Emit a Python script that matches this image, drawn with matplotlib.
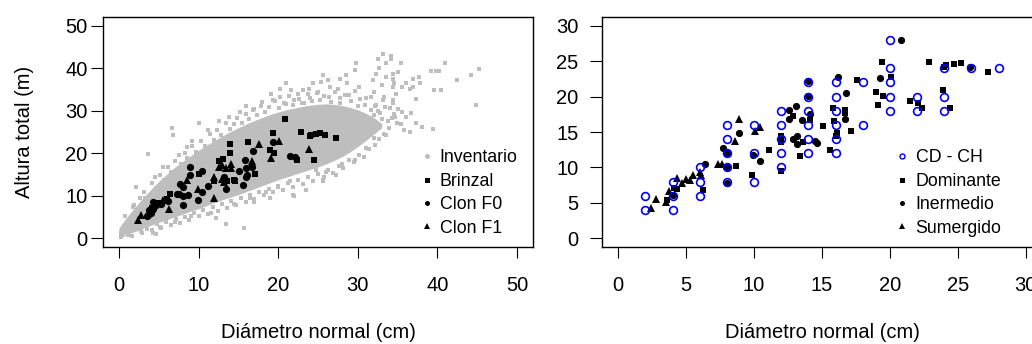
import matplotlib
matplotlib.use("Agg")
import matplotlib.pyplot as plt
from matplotlib.lines import Line2D

plt.rcParams['font.family'] = ['Liberation Sans', 'DejaVu Sans']

GRAY = '#BEBEBE'
BLUE = '#0000FF'

# --- inventario: dense core (envelope) ---
core_d = list(range(34))
core_hi = [2.5, 5.0, 7.3, 9.5, 11.5, 13.4, 15.1, 16.7, 18.1, 19.4, 20.7, 21.9, 23.0,
           24.1, 25.1, 26.0, 26.9, 27.7, 28.4, 29.1, 29.7, 30.2, 30.6, 31.0, 31.3,
           31.5, 31.6, 31.5, 31.2, 30.8, 30.2, 29.4, 28.4, 27.0]
core_lo = [0.8, 1.0, 1.6, 2.4, 3.1, 3.8, 4.4, 5.1, 5.7, 6.4, 7.0, 7.7, 8.4, 9.1, 9.7,
           10.3, 11.0, 11.7, 12.4, 13.1, 13.8, 14.4, 15.0, 15.6, 16.2, 16.8, 17.5,
           18.3, 19.2, 20.3, 21.6, 23.0, 24.5, 26.0]

# --- inventario: scattered trees outside the core ---
out_d = [0.2, 0.5, 0.8, 1.2, 1.5, 2.2, 3.6, 4.3, 4.6, 2.8, 3.5, 5.2, 6.7, 6.8, 10.1,
         4.5, 5.5, 2.6, 1.8, 7.5, 8.5, 9.2, 11.2, 12.6, 13.8,
         7.0, 9.0, 10.5, 12.2, 13.4, 15.7, 14.5, 16.5, 18.5, 20.0, 21.5, 22.0, 23.5,
         21.8, 24.8, 25.6, 25.6, 27.3, 29.6, 29.4, 31.0, 26.0, 28.0, 19.0, 17.0, 11.5,
         15.2, 16.0, 17.0, 18.0, 19.1, 19.3, 20.2, 20.2, 21.0, 21.6, 22.5, 23.1, 23.9,
         24.4, 25.4, 25.6, 26.2, 27.7, 28.5, 29.6, 29.8, 28.7, 27.5, 26.4, 27.7, 28.9,
         30.2, 31.9, 32.3, 32.7, 33.5, 34.2, 33.1, 32.5, 33.5, 34.4, 34.8, 33.3, 32.3,
         31.7, 31.0, 30.6, 29.9, 28.9, 31.0, 30.0, 29.0, 32.0, 33.0, 35.0, 22.0, 24.0,
         25.0, 26.5, 23.0, 21.0,
         34.2, 35.4, 34.4, 34.4, 34.6, 35.5, 36.0, 36.9, 37.7, 36.5, 36.9, 37.8, 37.3,
         34.4, 34.4, 34.6, 34.7, 36.0, 36.7, 35.4, 35.8, 36.5, 37.3, 38.1, 39.4, 39.2,
         39.8, 40.2, 40.9, 39.6, 40.4, 42.5, 44.2, 45.2, 44.8, 33.6, 32.5, 33.0, 35.0,
         31.5, 32.0, 32.5, 31.8, 30.5, 32.0,
         33.8, 34.3, 33.9, 34.9, 35.5, 34.1, 33.2]
out_h = [1.2, 0.8, 2.5, 0.9, 3.8, 12.2, 19.9, 1.3, 1.0, 1.8, 2.2, 2.6, 25.9, 24.2, 27.2,
         14.5, 16.8, 9.5, 7.5, 19.5, 21.5, 23.0, 25.5, 27.5, 28.6,
         3.8, 5.2, 6.8, 4.8, 3.3, 2.4, 8.2, 9.5, 11.0, 12.2, 13.5, 10.0, 11.4,
         10.2, 16.1, 13.7, 13.4, 14.9, 18.4, 22.3, 21.2, 15.5, 17.5, 9.5, 8.5, 6.0,
         29.7, 31.0, 30.5, 32.0, 34.0, 32.5, 33.3, 35.2, 36.4, 34.8, 34.0, 34.8, 35.2,
         36.4, 36.8, 38.3, 37.2, 37.5, 38.3, 39.5, 41.1, 36.4, 35.2, 33.3, 31.7, 33.6,
         35.6, 37.2, 38.7, 40.0, 41.1, 42.2, 43.4, 42.2, 37.9, 35.6, 34.0, 33.3, 31.3,
         30.1, 28.6, 26.2, 24.3, 24.7, 33.0, 31.0, 29.5, 34.5, 36.0, 39.0, 32.5, 33.0,
         34.5, 35.5, 31.8, 31.5,
         42.8, 41.1, 38.7, 37.5, 36.5, 35.6, 36.5, 37.5, 37.9, 35.2, 35.6, 36.6, 32.8,
         32.5, 31.7, 29.2, 28.6, 28.6, 29.4, 26.9, 25.5, 25.1, 27.0, 26.2, 25.8, 39.3,
         39.3, 39.3, 41.3, 34.8, 34.8, 37.3, 38.3, 39.9, 31.3, 24.3, 26.0, 28.0, 30.5,
         27.0, 29.0, 30.0, 25.0, 24.0, 23.5,
         27.5, 28.4, 25.9, 27.1, 29.8, 30.6, 32.5]

# --- inventario: trees on the ragged upper and lower edges of the core ---
edge_d = [0.8, 1.3, 1.9, 2.4, 3.1, 3.3, 4.2, 4.6, 5.1, 5.7, 6.2, 6.5, 7.1, 7.8, 8.3,
          8.6, 9.2, 9.7, 10.3, 10.8, 11.4, 11.9, 12.3, 12.8, 13.5, 13.9, 14.4, 14.8,
          15.4, 15.9, 16.3, 16.9, 17.4, 17.8, 18.4, 18.9, 19.6, 20.1, 20.7, 21.3, 21.8,
          22.6, 23.2, 23.7, 24.3, 24.9, 25.3, 25.8, 26.6, 27.1, 27.8, 28.4, 29.1, 29.7,
          30.3, 30.9, 31.6, 32.2, 32.8, 33.4,
          0.3, 0.9, 1.6, 2.2, 2.9, 3.4, 4.1, 4.8, 5.3, 5.9, 6.6, 7.2, 7.7, 8.3, 8.8,
          9.4, 10.1, 10.6, 11.2, 11.8, 12.4, 13.0, 13.6, 14.1, 14.7, 15.3, 15.9, 16.4,
          17.0, 17.6, 18.2, 18.8, 19.4, 20.0, 20.6, 21.2, 21.9, 22.5, 23.1, 23.8, 24.4,
          25.0, 25.7, 26.3, 26.9, 27.6, 28.2, 28.9, 29.5, 30.1, 30.8, 31.4, 32.1, 32.7,
          33.3]
edge_h = [5.2, 4.1, 7.9, 6.9, 10.8, 9.4, 13.1, 11.9, 14.9, 13.8, 16.9, 15.6, 18.2, 17.4,
          20.1, 18.9, 21.6, 20.4, 22.9, 21.8, 24.6, 23.1, 25.4, 24.2, 27.2, 25.6, 26.9,
          28.4, 27.1, 29.3, 28.0, 30.1, 28.9, 31.2, 29.6, 30.8, 32.3, 30.6, 31.9, 33.4,
          31.4, 32.8, 31.7, 33.9, 32.2, 34.1, 32.6, 33.5, 32.1, 34.4, 32.9, 33.8, 32.3,
          34.6, 32.7, 31.4, 33.2, 31.1, 29.4, 30.8,
          0.4, 1.9, 0.7, 2.4, 1.3, 2.9, 1.9, 3.4, 2.5, 3.9, 3.1, 4.6, 3.7, 5.1, 4.4,
          5.9, 5.2, 6.6, 5.8, 7.3, 6.4, 8.1, 7.2, 8.7, 7.9, 9.4, 8.6, 10.1, 9.3, 10.9,
          10.1, 11.6, 10.8, 12.4, 11.5, 13.1, 12.2, 13.7, 12.9, 14.4, 13.6, 15.1, 14.5,
          16.0, 15.4, 17.1, 16.6, 18.4, 17.9, 19.6, 19.2, 21.0, 21.9, 23.4, 24.6]

# --- sampled trees: diameter, height, class in right panel, class in left panel ---
# right: D = Dominante, I = Inermedio, S = Sumergido
# left:  B = Brinzal, F0 = Clon F0, F1 = Clon F1
tree_d = [2.38, 2.75, 3.5, 3.6, 3.73, 4.0, 4.1, 4.3, 4.34, 4.7, 5.0, 5.25, 5.49, 5.98,
          6.1, 6.37, 6.25, 7.35, 7.6, 7.7, 8.0, 8.0, 8.68, 8.0, 8.6, 8.87, 8.92, 9.88,
          10.07, 10.44, 9.95, 10.44, 11.13, 12.0, 12.0, 12.0, 12.6, 13.1, 12.9, 12.6,
          13.5, 13.4, 12.9, 13.15, 13.15, 13.6, 14.0, 14.0, 14.1, 14.1, 14.5, 14.6,
          15.1, 15.6, 15.8, 15.9, 16.2, 16.1, 16.0, 16.8, 16.7, 16.7, 16.7, 17.15,
          17.6, 19.0, 19.1, 19.4, 19.3, 19.5, 20.1, 20.8, 21.5, 22.1, 22.4, 22.9, 23.9,
          24.1, 24.45, 24.7, 25.2, 25.9, 24.0, 27.2]
tree_h = [4.3, 5.6, 5.2, 5.4, 6.7, 6.1, 7.15, 7.0, 8.5, 7.85, 8.4, 8.2, 9.0, 9.3,
          8.9, 10.45, 6.9, 10.5, 10.5, 12.7, 12.1, 10.0, 10.2, 7.85, 13.7, 16.9, 14.9,
          9.0, 15.2, 15.75, 11.7, 10.95, 12.4, 13.6, 14.4, 9.5, 18.1, 18.7, 17.3, 16.8,
          16.65, 11.6, 14.0, 13.35, 14.4, 13.6, 22.2, 20.1, 17.5, 16.65, 13.7, 13.4,
          15.9, 12.5, 18.4, 16.6, 22.7, 14.9, 14.4, 20.5, 18.1, 17.7, 16.8, 15.2,
          22.3, 20.7, 18.8, 24.8, 22.6, 20.1, 22.8, 28.0, 19.4, 19.1, 18.4, 24.9, 20.9,
          24.4, 18.4, 24.6, 24.7, 24.2, 24.1, 23.5]
tree_right = ['S', 'S', 'S', 'D', 'S', 'I', 'D', 'D', 'S', 'S', 'S', 'S', 'S', 'S',
              'S', 'I', 'D', 'S', 'S', 'I', 'I', 'I', 'D', 'I', 'S', 'S', 'I', 'D',
              'S', 'S', 'I', 'I', 'D', 'D', 'D', 'D', 'I', 'I', 'D', 'I',
              'I', 'D', 'I', 'I', 'I', 'D', 'I', 'I', 'I', 'D', 'I', 'I',
              'D', 'D', 'D', 'D', 'I', 'D', 'D', 'I', 'D', 'D', 'I', 'D',
              'D', 'D', 'D', 'D', 'I', 'D', 'D', 'I', 'D', 'D', 'D', 'D', 'D',
              'D', 'D', 'D', 'D', 'I', 'D', 'D']
tree_left = ['F1', 'F1', 'F0', 'F0', 'F0', 'F0', 'B', 'F0', 'F0', 'F0', 'B', 'F0', 'F1', 'B',
             'F0', 'B', 'F1', 'F0', 'F0', 'F0', 'F0', 'F0', 'F0', 'F0', 'F1', 'F0', 'F0', 'F0',
             'B', 'F0', 'F1', 'F0', 'F0', 'B', 'F1', 'F1', 'B', 'B', 'F1', 'F1',
             'F1', 'F0', 'F1', 'F1', 'F0', 'B', 'B', 'B', 'F1', 'F1', 'B', 'B',
             'F0', 'F0', 'F0', 'F0', 'B', 'F0', 'F0', 'F0', 'F1', 'F1', 'F0', 'B',
             'F1', 'B', 'F1', 'B', 'F0', 'B', 'F1', 'B', 'F0', 'F0', 'B', 'B', 'F1',
             'B', 'B', 'B', 'B', 'B', 'B', 'B']

# --- CD - CH pairs (right panel) ---
cd_d = [2, 2, 4, 4, 4, 6, 6, 6, 8, 8, 8, 8, 8, 10, 10, 10, 12, 12, 12, 12, 12,
        14, 14, 14, 14, 14, 14, 16, 16, 16, 16, 16, 16, 18, 18, 20, 20, 20, 20, 20,
        22, 22, 24, 24, 24, 26, 28]
cd_h = [6, 4, 8, 6, 4, 10, 8, 6, 16, 14, 12, 10, 8, 16, 12, 8, 18, 16, 14, 12, 10,
        22, 20, 18, 16, 14, 12, 22, 20, 18, 16, 14, 12, 22, 16, 28, 24, 22, 20, 18,
        20, 18, 24, 20, 18, 24, 24]

left_labels = ['Inventario', 'Brinzal', 'Clon F0', 'Clon F1']
right_labels = ['CD - CH', 'Dominante', 'Inermedio', 'Sumergido']
marker_of = {'B': 's', 'F0': 'o', 'F1': '^', 'D': 's', 'I': 'o', 'S': '^'}
size_of = {'s': 5.0, 'o': 5.2, '^': 5.8}

W, H = 1032, 344
fig = plt.figure(figsize=(W / 100, H / 100), dpi=100)
ax1 = fig.add_axes([103 / W, (H - 247) / H, 430 / W, 230 / H])
ax2 = fig.add_axes([602 / W, (H - 247) / H, 440 / W, 230 / H])

# left panel
ax1.fill_between(core_d, core_lo, core_hi, color=GRAY, lw=0, zorder=1)
ax1.plot(out_d + edge_d, out_h + edge_h, 's', ms=2.2, color=GRAY, mew=0, zorder=1)
for cls in ['B', 'F0', 'F1']:
    xs = [d for d, c in zip(tree_d, tree_left) if c == cls]
    ys = [h for h, c in zip(tree_h, tree_left) if c == cls]
    m = marker_of[cls]
    ax1.plot(xs, ys, m, ms=size_of[m], color='black', mew=0, zorder=3)
ax1.set_xlim(-2, 52)
ax1.set_ylim(-2, 52)
ax1.set_xticks([0, 10, 20, 30, 40, 50])
ax1.set_yticks([0, 10, 20, 30, 40, 50])

# right panel
for cls in ['D', 'I', 'S']:
    xs = [d for d, c in zip(tree_d, tree_right) if c == cls]
    ys = [h for h, c in zip(tree_h, tree_right) if c == cls]
    m = marker_of[cls]
    ax2.plot(xs, ys, m, ms=size_of[m], color='black', mew=0, zorder=3)
ax2.plot(cd_d, cd_h, 'o', ms=5.6, mfc='none', mec=BLUE, mew=1.2, zorder=4)
ax2.set_xlim(-1.2, 31.2)
ax2.set_ylim(-1.2, 31.2)
ax2.set_xticks([0, 5, 10, 15, 20, 25, 30])
ax2.set_yticks([0, 5, 10, 15, 20, 25, 30])

for ax, ypad in [(ax1, 2), (ax2, 8)]:
    for sp in ax.spines.values():
        sp.set_linewidth(1.0)
    ax.tick_params(axis='x', length=7.6, width=0.8, pad=13, labelsize=14.5)
    ax.tick_params(axis='y', length=9, width=0.8, pad=ypad, labelsize=14.5)
    ax.set_xlabel('Diámetro normal (cm)', fontsize=14.5)
    ax.xaxis.set_label_coords(0.5, -0.33)

ax1.set_ylabel('Altura total (m)', fontsize=14.5)
ax1.yaxis.set_label_coords(-0.16, 0.5)

# legends
h_left = [Line2D([], [], ls='', marker='o', ms=3.6, color=GRAY, mew=0),
          Line2D([], [], ls='', marker='s', ms=3.6, color='black', mew=0),
          Line2D([], [], ls='', marker='o', ms=3.6, color='black', mew=0),
          Line2D([], [], ls='', marker='^', ms=4.0, color='black', mew=0)]
h_right = [Line2D([], [], ls='', marker='o', ms=3.6, mfc='none', mec=BLUE, mew=1.0),
           Line2D([], [], ls='', marker='s', ms=3.6, color='black', mew=0),
           Line2D([], [], ls='', marker='o', ms=3.6, color='black', mew=0),
           Line2D([], [], ls='', marker='^', ms=4.0, color='black', mew=0)]
ax1.legend(h_left, left_labels, loc='center left', bbox_to_anchor=(0.737, 0.235),
           frameon=False, fontsize=12.8, handlelength=0.8, handletextpad=0.31,
           labelspacing=0.36, borderpad=0, borderaxespad=0)
ax2.legend(h_right, right_labels, loc='center left', bbox_to_anchor=(0.665, 0.235),
           frameon=False, fontsize=12.8, handlelength=0.8, handletextpad=0.38,
           labelspacing=0.36, borderpad=0, borderaxespad=0)

fig.savefig('out.png', dpi=100)
